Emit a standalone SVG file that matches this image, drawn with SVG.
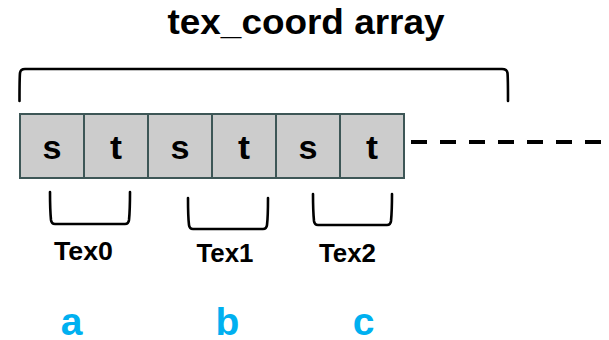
<svg xmlns="http://www.w3.org/2000/svg" width="609" height="340" viewBox="0 0 609 340">
<style>
.cell{fill:#cccccc;stroke:#3d5656;stroke-width:2}
.cl{font-family:"Liberation Sans",Arial,sans-serif;font-weight:bold;font-size:34px;fill:#000;text-anchor:middle}
.tex{font-family:"Liberation Sans",Arial,sans-serif;font-weight:bold;font-size:25px;fill:#000;text-anchor:middle}
.var{font-family:"Liberation Sans",Arial,sans-serif;font-weight:bold;font-size:39px;fill:#00b0f0;text-anchor:middle}
.br{fill:none;stroke:#000;stroke-width:2.6;stroke-linecap:round;stroke-linejoin:round}
</style>
<rect width="609" height="340" fill="#ffffff"/>
<g id="title">
<text x="306" y="34" font-family="Liberation Sans, Arial, sans-serif" font-weight="bold" font-size="35" text-anchor="middle" textLength="277" lengthAdjust="spacingAndGlyphs">tex_coord array</text>
</g>
<g id="array">
<g id="cell0"><rect class="cell" x="20" y="114" width="64" height="64"/><text class="cl" x="52" y="159" textLength="19" lengthAdjust="spacingAndGlyphs">s</text></g>
<g id="cell1"><rect class="cell" x="84" y="114" width="64" height="64"/><text class="cl" x="116" y="159" textLength="12" lengthAdjust="spacingAndGlyphs">t</text></g>
<g id="cell2"><rect class="cell" x="148" y="114" width="64" height="64"/><text class="cl" x="180" y="159" textLength="19" lengthAdjust="spacingAndGlyphs">s</text></g>
<g id="cell3"><rect class="cell" x="212" y="114" width="64" height="64"/><text class="cl" x="244" y="159" textLength="12" lengthAdjust="spacingAndGlyphs">t</text></g>
<g id="cell4"><rect class="cell" x="276" y="114" width="64" height="64"/><text class="cl" x="308" y="159" textLength="19" lengthAdjust="spacingAndGlyphs">s</text></g>
<g id="cell5"><rect class="cell" x="340" y="114" width="64" height="64"/><text class="cl" x="372" y="159" textLength="12" lengthAdjust="spacingAndGlyphs">t</text></g>
</g>
<g id="connectors">
<path class="br" d="M19.5,101 C19.5,88 19.5,78 20,73 Q20.5,69 25,69 L502,69 Q507,69 507.5,73 C508,78 508,88 508,101"/>
<line x1="411" y1="142" x2="603" y2="142" stroke="#000" stroke-width="4" stroke-dasharray="16 13"/>
<path class="br" d="M50,192 C50,205 50.5,215 51,220 Q51.5,224 55,224 L125,224 Q128.5,224 129,220 C129.5,215 130,205 130,192"/>
<path class="br" d="M188,198 C188,211 188.5,221 189,225 Q189.5,229 193,229 L263,229 Q266.5,229 267,225 C267.5,221 268,211 268,198"/>
<path class="br" d="M313,194 C313,207 313.5,216 314,221 Q314.5,225 318,225 L387,225 Q390.5,225 391,221 C391.5,216 392,207 392,194"/>
</g>
<g id="tex0"><text class="tex" x="83.5" y="260" textLength="59" lengthAdjust="spacingAndGlyphs">Tex0</text></g>
<g id="tex1"><text class="tex" x="225" y="262" textLength="57" lengthAdjust="spacingAndGlyphs">Tex1</text></g>
<g id="tex2"><text class="tex" x="347.5" y="262" textLength="57" lengthAdjust="spacingAndGlyphs">Tex2</text></g>
<g id="a"><text class="var" x="71.5" y="335">a</text></g>
<g id="b"><text class="var" x="227.5" y="335">b</text></g>
<g id="c"><text class="var" x="363.5" y="335">c</text></g>
</svg>
